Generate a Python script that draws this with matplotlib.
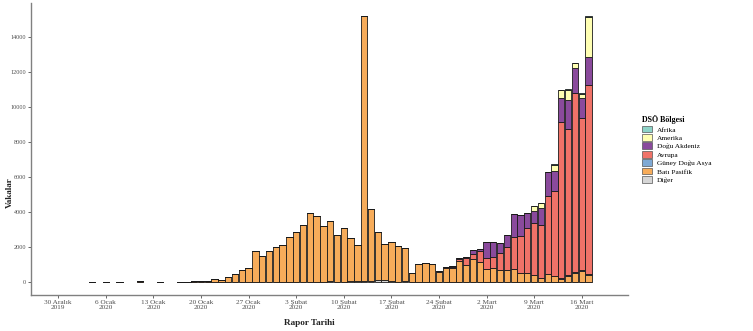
import pandas as pd
import matplotlib.pyplot as plt
from matplotlib.patches import Patch

plt.rcParams['font.family'] = ['Liberation Serif', 'DejaVu Serif']

START = pd.Timestamp("2019-12-30")

# report dates before daily reporting
early_dates = pd.to_datetime(["2020-01-04", "2020-01-06", "2020-01-08", "2020-01-11", "2020-01-14"])
early_bati_pasifik = [0, 0, 0, 41, 0]

# daily reports, 17 Ocak - 17 Mart
daily_dates = pd.date_range("2020-01-17", "2020-03-17")
bati_pasifik = [5, 15, 40, 60, 80, 150, 130, 270, 455, 690,
                780, 1790, 1485, 1770, 2020, 2110, 2590, 2840, 3257, 3925,
                3733, 3200, 3420, 2680, 3067, 2495, 2074, 15150, 4075, 2743,
                2074, 2210, 2020, 1866, 495, 1028, 1100, 1010, 580, 780,
                780, 1200, 970, 1300, 1160, 743, 780, 686, 686, 725,
                495, 495, 400, 200, 440, 350, 154, 360, 495, 600,
                400]

diger_dates = pd.date_range("2020-02-06", "2020-02-20")
diger = [10, 0, 41, 3, 3, 39, 44, 67, 70, 99, 88, 79, 13, 57, 0]

late_dates = pd.date_range("2020-02-24", "2020-03-17")
avrupa = [20, 50, 90, 120, 380, 300, 590, 611, 667, 954, 1334, 1825,
          2105, 2615, 2950, 3027, 4451, 4847, 8956, 8305, 10222, 8674, 10797]
dogu_akdeniz = [0, 0, 40, 60, 80, 230, 135, 949, 856, 570, 666, 1330,
                1210, 830, 687, 954, 1372, 1103, 1371, 1675, 1429, 1177, 1618]
amerika = [0, 0, 0, 0, 0, 0, 0, 0, 0, 0, 0, 20,
           0, 0, 273, 289, 0, 380, 440, 571, 251, 212, 2250]
guney_dogu_asya = [0, 0, 0, 0, 0, 0, 0, 0, 0, 0, 0, 0,
                   0, 0, 20, 30, 40, 20, 50, 60, 100, 80, 60]
afrika = [0, 0, 0, 0, 0, 0, 0, 0, 0, 0, 0, 0,
          0, 0, 5, 10, 10, 15, 20, 30, 40, 50, 60]

regions = ["Afrika", "Amerika", "Doğu Akdeniz", "Avrupa", "Güney Doğu Asya", "Batı Pasifik", "Diğer"]
colors = ["#8DD3C7", "#FFFFB3", "#8A4A9C", "#F07268", "#7FA9D4", "#F7AC5A", "#D6D6D6"]

tick_days = [0, 7, 14, 21, 28, 35, 42, 49, 56, 63, 70, 77]
tick_labels = ["30 Aralık\n2019", "6 Ocak\n2020", "13 Ocak\n2020", "20 Ocak\n2020",
               "27 Ocak\n2020", "3 Şubat\n2020", "10 Şubat\n2020", "17 Şubat\n2020",
               "24 Şubat\n2020", "2 Mart\n2020", "9 Mart\n2020", "16 Mart\n2020"]

#%% build table
all_dates = early_dates.append(daily_dates)
df = pd.DataFrame(index=all_dates, columns=regions, dtype=float)
df["Batı Pasifik"] = pd.Series(early_bati_pasifik, index=early_dates)
df.loc[daily_dates, "Batı Pasifik"] = bati_pasifik
df["Diğer"] = pd.Series(diger, index=diger_dates)
df["Avrupa"] = pd.Series(avrupa, index=late_dates)
df["Doğu Akdeniz"] = pd.Series(dogu_akdeniz, index=late_dates)
df["Amerika"] = pd.Series(amerika, index=late_dates)
df["Güney Doğu Asya"] = pd.Series(guney_dogu_asya, index=late_dates)
df["Afrika"] = pd.Series(afrika, index=late_dates)
df = df.fillna(0)
x = (df.index - START).days

#%% plot
fig = plt.figure(figsize=(7.53, 3.31), dpi=100)
ax = fig.add_axes([31 / 753, 1 - 295 / 331, (628 - 31) / 753, (295 - 3) / 331])

bottom = pd.Series(0.0, index=df.index)
for reg, col in zip(regions[::-1], colors[::-1]):
    ax.bar(x, df[reg], width=0.92, bottom=bottom, color=col,
           edgecolor="#1a1a1a", linewidth=0.6)
    bottom = bottom + df[reg]

ax.set_xlim(-4, 83.8)
ax.set_ylim(-743, 15943)
ax.set_yticks(range(0, 14001, 2000))
ax.set_yticklabels([str(v) for v in range(0, 14001, 2000)])
ax.set_xticks(tick_days)
ax.set_xticklabels(tick_labels, linespacing=1.0)
ax.tick_params(axis="both", labelsize=5.2, colors="#4d4d4d", length=2, width=0.6, pad=1.5)
ax.tick_params(axis="y", labelsize=4.4)
for side in ["top", "right"]:
    ax.spines[side].set_visible(False)
for side in ["left", "bottom"]:
    ax.spines[side].set_color("#808080")
    ax.spines[side].set_linewidth(1.0)

fig.text(309 / 753, 1 - 323 / 331, "Rapor Tarihi", fontsize=6.6, fontweight="bold",
         ha="center", va="center", color="#222222")
fig.text(10 / 753, 1 - 193 / 331, "Vakalar", fontsize=6.6, fontweight="bold",
         ha="center", va="center", rotation=90, color="#222222")

handles = [Patch(facecolor=c, edgecolor="#555555", linewidth=0.5, label=r)
           for r, c in zip(regions, colors)]
leg = fig.legend(handles=handles, loc="upper left", bbox_to_anchor=(637 / 753, 1 - 110 / 331),
                 frameon=False, fontsize=5.3, title="DSÖ Bölgesi",
                 title_fontproperties={"weight": "bold", "size": 5.8},
                 handlelength=1.4, handleheight=1.05, labelspacing=0.2,
                 handletextpad=0.6, borderpad=0.2, alignment="left")

fig.savefig("out.png", dpi=100)
